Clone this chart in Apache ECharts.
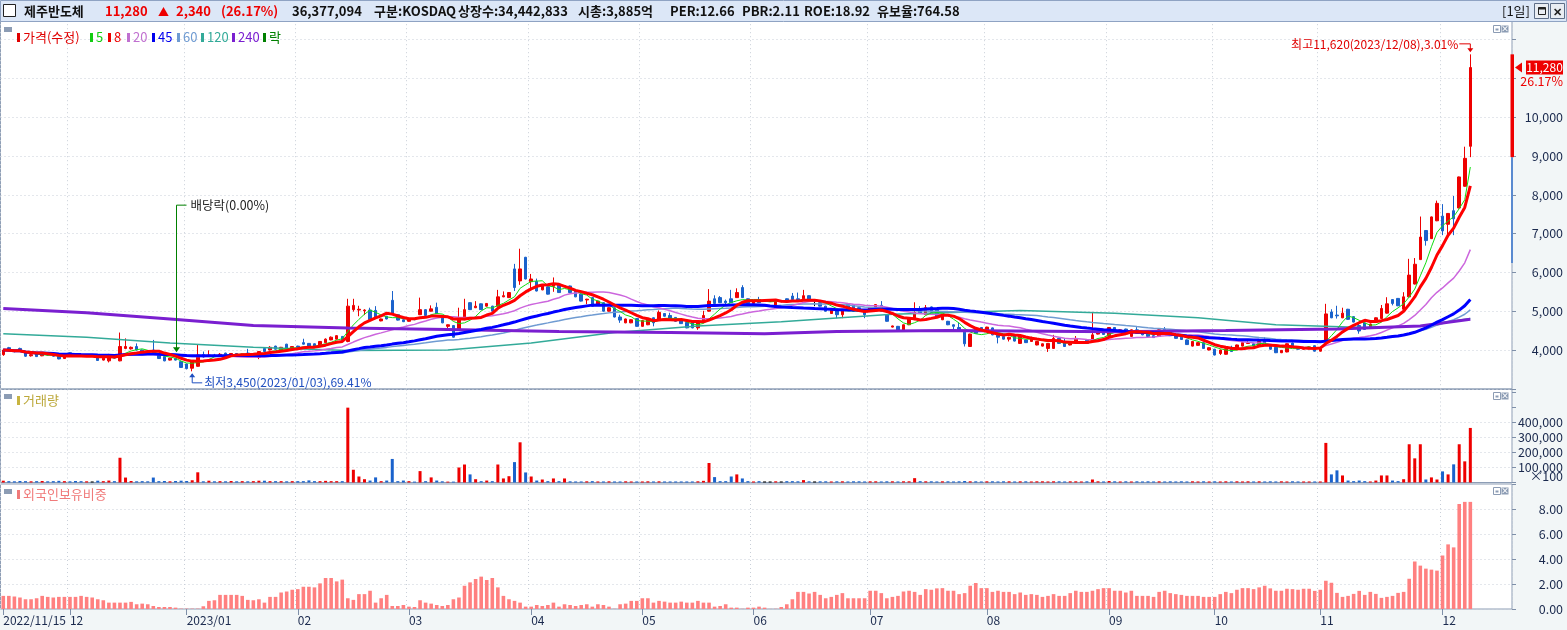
<!DOCTYPE html>
<html>
<head>
<meta charset="utf-8">
<script src="https://cdn.jsdelivr.net/npm/echarts@6/dist/echarts.min.js"></script>
<style>
  html, body { margin: 0; padding: 0; background: #f2f6f7; }
  #chart { width: 1567px; height: 630px; }
</style>
</head>
<body>
<div id="chart"></div>
<script>
/* -----------------------------
   제주반도체 일봉 - 가격 / 거래량 / 외국인보유비중
   ----------------------------- */

// KRX holidays inside the range (weekdays only)
const HOLIDAYS = [
  "2022-12-30", "2023-01-23", "2023-01-24", "2023-03-01", "2023-05-01",
  "2023-05-05", "2023-05-29", "2023-06-06", "2023-08-15", "2023-09-28",
  "2023-09-29", "2023-10-02", "2023-10-03", "2023-10-09"
];
const FIRST_DAY = "2022-11-15";
const LAST_DAY = "2023-12-08";
const EMPTY_SLOTS = 7;   // blank space right of the last candle

// [open, close, low, high]
const nov22 = [
  [3880,4000,3850,4030],[4060,3990,3970,4080],[3990,3960,3940,4000],[4040,3960,3950,4060],
  [3960,3840,3820,3970],[3850,3880,3830,3900],[3930,3830,3820,3940],[3850,3900,3840,3910],
  [3900,3870,3860,3920],[3910,3840,3830,3920],[3870,3770,3760,3880],[3780,3830,3770,3850]
];
const dec22 = [
  [3930,3870,3860,3940],[3880,3850,3840,3900],[3860,3840,3830,3870],[3840,3860,3830,3870],
  [3850,3850,3830,3860],[3830,3730,3720,3840],[3740,3790,3730,3800],[3720,3830,3680,3900],
  [3830,3790,3780,3840],[3720,4090,3710,4450],[4040,4090,4020,4300],[4030,4070,4010,4090],
  [4090,4000,3990,4170],[4000,3900,3890,4010],[3960,3900,3890,3970],[4000,3910,3900,4260],
  [3900,3780,3770,3910],[3830,3720,3710,3840],[3740,3790,3730,3800],[3780,3740,3730,3790],
  [3700,3550,3540,3710]
];
const jan23 = [
  [3640,3520,3500,3650],[3530,3700,3450,3720],[3580,3870,3570,4130],[3880,3820,3800,3960],
  [3830,3870,3820,3990],[3870,3850,3840,3900],[3860,3890,3850,3920],[3920,3880,3870,3930],
  [3880,3910,3870,3920],[3910,3890,3880,3920],[3880,3900,3870,3910],[3920,3880,3870,4030],
  [3890,3900,3870,3910],[3810,3960,3765,3970],[4040,3960,3950,4050],[4000,4070,3990,4100],
  [4100,4020,4010,4110],[4000,4070,3990,4080],[4150,4020,4010,4160],[4020,4090,4010,4100]
];
const feb23 = [
  [4100,4070,4060,4110],[4190,4150,4140,4290],[4170,4100,4090,4180],[4160,4070,4060,4170],
  [4130,4220,4120,4230],[4190,4280,4180,4300],[4260,4330,4250,4350],[4280,4370,4270,4380],
  [4350,4250,4240,4360],[4220,5130,4200,5320],[5040,5150,4990,5320],[5030,5050,4870,5140],
  [5010,5030,4900,5050],[5030,4780,4770,5090],[5020,4850,4840,5130],[4750,4800,4740,4810],
  [4870,4800,4790,4880],[5280,4940,4930,5520],[4910,4770,4760,4920],[4780,4730,4720,4790]
];
const mar23 = [
  [4740,4780,4730,4790],[4810,4780,4770,4820],[4910,5040,4900,5350],[5040,4890,4880,5050],
  [5000,5060,4990,5150],[5100,4940,4930,5220],[4890,4700,4690,4900],[4610,4650,4500,4660],
  [4630,4330,4320,4640],[4520,4780,4510,5090],[4780,5040,4770,5320],[5220,5040,5030,5230],
  [5090,5130,5080,5260],[5190,5040,5030,5200],[5130,5200,5120,5210],[5130,5000,4990,5140],
  [5130,5370,5120,5550],[5370,5400,5360,5510],[5350,5480,5340,5490],[6090,5610,5520,6220],
  [5780,6090,5680,6610],[6390,5830,5820,6400]
];
const apr23 = [
  [5760,5830,5540,5960],[5770,5520,5510,5840],[5550,5650,5540,5660],[5630,5440,5430,5640],
  [5640,5700,5500,5870],[5700,5480,5470,5710],[5640,5660,5630,5670],[5650,5480,5470,5660],
  [5520,5370,5360,5530],[5440,5260,5250,5450],[5290,5310,5180,5320],[5350,5130,5120,5360],
  [5170,5260,5160,5270],[5220,5000,4990,5230],[5000,5090,4990,5100],[5090,4850,4840,5100],
  [4850,4770,4700,4910],[4700,4800,4690,4810],[4700,4780,4690,4790],[4810,4610,4600,4820]
];
const may23 = [
  [4610,4760,4600,4770],[4650,4780,4640,4790],[4830,4700,4610,4840],[4780,4970,4770,5020],
  [4940,4870,4860,4950],[4890,4770,4760,4960],[4840,4740,4730,4850],[4760,4680,4670,4770],
  [4710,4570,4560,4720],[4740,4570,4560,4750],[4570,4710,4520,4720],[4740,4890,4730,5010],
  [5000,5260,4990,5570],[5320,5200,5190,5410],[5350,5220,5210,5390],[5260,5220,5170,5300],
  [5320,5220,5210,5550],[5350,5480,5340,5590],[5610,5350,5340,5670],[5320,5200,5190,5330]
];
const jun23 = [
  [5200,5260,5190,5270],[5300,5220,5210,5370],[5260,5260,5240,5280],[5260,5260,5240,5290],
  [5090,5260,5080,5270],[5260,5260,5230,5290],[5320,5260,5250,5330],[5390,5300,5290,5470],
  [5320,5260,5250,5480],[5320,5400,5310,5550],[5400,5260,5250,5410],[5260,5260,5130,5310],
  [5220,5130,5120,5230],[5130,5000,4990,5140],[4940,5040,4930,5050],[5040,4910,4820,5050],
  [4910,5040,4820,5050],[5170,5040,5030,5180],[5170,5000,4990,5180],[5090,5000,4990,5100],
  [5000,4910,4820,5010]
];
const jul23 = [
  [5000,5090,4990,5100],[5030,5170,5020,5180],[5150,5000,4990,5260],[4910,4740,4730,4920],
  [4590,4620,4580,4630],[4610,4480,4470,4620],[4500,4650,4490,4660],[4650,4800,4640,4810],
  [4780,4970,4770,5230],[5040,4940,4930,5130],[4910,5090,4900,5160],[5110,4970,4960,5120],
  [5040,4850,4840,5050],[4780,4890,4770,4900],[4740,4650,4640,4750],[4650,4610,4500,4660],
  [4580,4480,4470,4700],[4460,4160,4090,4470],[4090,4410,4080,4420],[4540,4430,4420,4550],
  [4580,4500,4490,4590]
];
const aug23 = [
  [4500,4590,4490,4600],[4570,4390,4380,4580],[4390,4330,4170,4400],[4350,4280,4270,4360],
  [4280,4330,4220,4340],[4390,4230,4220,4400],[4170,4350,4160,4360],[4260,4190,4180,4270],
  [4220,4330,4210,4340],[4130,4220,4120,4230],[4100,4160,4090,4170],[4040,4170,3950,4180],
  [4040,4300,4030,4390],[4300,4170,4160,4310],[4220,4090,4080,4300],[4130,4170,4120,4180],
  [4220,4280,4210,4360],[4180,4200,4170,4210],[4250,4170,4160,4260],[4220,4390,4210,4960],
  [4410,4450,4400,4460],[4460,4400,4390,4470]
];
const sep23 = [
  [4370,4580,4360,4590],[4580,4450,4440,4590],[4480,4520,4470,4530],[4540,4410,4400,4550],
  [4350,4520,4340,4530],[4520,4430,4420,4590],[4450,4390,4380,4460],[4430,4350,4340,4440],
  [4370,4320,4310,4380],[4350,4520,4340,4530],[4540,4480,4470,4590],[4480,4370,4360,4490],
  [4390,4300,4290,4400],[4330,4270,4260,4340],[4260,4140,4130,4270],[4100,4220,4090,4230],
  [4120,4190,4110,4200],[4190,4040,4030,4200],[4000,4060,3990,4070]
];
const oct23 = [
  [4020,3870,3860,4030],[3910,4000,3870,4010],[3890,4030,3880,4040],[4070,3960,3950,4110],
  [4020,4130,4010,4140],[4100,4190,4090,4200],[4170,4180,4160,4230],[4160,4100,4090,4170],
  [4100,4220,4090,4230],[4260,4170,4160,4330],[4130,4020,4010,4140],[4070,3930,3920,4080],
  [3930,3990,3920,4000],[3950,4160,3940,4170],[4180,4080,4070,4190],[4080,4020,4010,4090],
  [4020,4060,4010,4070],[4030,4080,4020,4090],[4110,3970,3960,4120]
];
const nov23 = [
  [3970,4030,3960,4040],[4230,4930,4200,5190],[4980,4830,4820,5050],[4900,4880,4810,5140],
  [4830,4950,4820,5090],[5050,4790,4780,5060],[4860,4720,4710,4870],[4630,4490,4420,4700],
  [4700,4530,4520,4710],[4580,4670,4570,4680],[4720,4830,4710,4840],[4810,5070,4800,5160],
  [4950,5190,4940,5360],[5300,5200,5150,5310],[5330,5140,5130,5340],[5050,5370,5040,5490],
  [5370,5930,5360,6350],[5700,6210,5690,6370],[6330,6910,6320,7440],[7080,6820,6690,7090],
  [6870,7430,6860,7440],[7330,7780,7320,7850]
];
const dec23 = [
  [7450,7070,6960,7760],[7240,7520,6960,7530],[7590,7380,6960,7970],[7660,8460,7650,8470],
  [8220,8940,8210,9240],[9250,11280,8970,11620]
];

// 거래량 (x100 shares)
const volume = [
  12000,9000,8000,10000,9000,8000,9000,10000,8000,9000,11000,9000,8000,10000,9000,8000,7000,12000,9000,13000,9000,
  165000,33000,10000,8000,9000,8000,33000,9000,10000,8000,10000,12000,10000,15000,68000,8000,12000,8000,9000,8000,10000,8000,9000,8000,9000,
  12000,12000,9000,9000,9000,8000,9000,9000,9000,14000,9000,9000,11000,9000,9000,9000,
  499000,85000,40000,22000,13000,34000,9000,13000,157000,9000,13000,9000,6000,76000,9000,34000,13000,8000,6000,6000,
  100000,120000,54000,22000,9000,13000,9000,120000,27000,42000,136000,268000,67000,40000,13000,20000,9000,27000,9000,27000,8000,7000,
  7000,8000,9000,7000,7000,8000,7000,7000,8000,7000,7000,7000,8000,7000,8000,7000,7000,7000,7000,7000,7000,8000,11000,
  130000,36000,9000,9000,40000,54000,27000,9000,7000,9000,
  7000,7000,8000,7000,9000,9000,8000,16000,
  8000,7000,8000,8000,7000,8000,8000,7000,8000,8000,7000,8000,8000,7000,8000,8000,7000,8000,8000,
  29000,9000,8000,8000,7000,8000,8000,7000,8000,10000,
  8000,8000,7000,8000,8000,7000,8000,8000,7000,8000,
  8000,7000,8000,8000,7000,8000,8000,7000,8000,8000,7000,8000,20000,8000,7000,10000,
  8000,7000,8000,7000,8000,7000,8000,7000,8000,7000,8000,7000,8000,7000,8000,7000,8000,
  7000,8000,7000,8000,7000,8000,7000,8000,7000,8000,7000,8000,7000,8000,7000,8000,7000,
  7000,7000,7000,7000,264000,54000,81000,47000,13000,9000,13000,9000,7000,13000,47000,47000,13000,9000,22000,
  255000,161000,255000,20000,34000,20000,74000,54000,121000,255000,141000,363771
];

// 외국인보유비중 (%)
const foreign = [
  1.05,1.05,1.0,0.92,0.78,0.78,0.86,1.05,0.97,0.92,0.97,0.97,0.97,0.97,1.05,0.97,0.92,0.78,0.70,0.51,
  0.51,0.51,0.51,0.57,0.38,0.43,0.38,0.24,0.16,0.16,0.16,0.11,0.03,0.03,0.03,0.03,0.22,0.65,0.70,1.13,
  1.13,1.13,1.13,1.05,0.73,0.70,
  0.78,0.51,0.97,0.97,1.32,1.40,1.54,1.59,1.78,1.78,1.73,2.05,2.48,2.48,2.21,2.35,0.86,0.73,1.19,1.19,
  1.46,0.51,0.86,1.13,0.24,0.24,0.32,0.19,0.16,0.70,0.51,0.43,0.32,0.24,0.32,0.78,0.92,1.86,2.13,2.40,
  2.59,2.32,2.48,1.73,1.05,0.78,
  0.65,0.51,0.19,0.19,0.32,0.24,0.32,0.51,0.19,0.38,0.32,0.24,0.32,0.38,0.19,0.38,0.32,0.19,0.02,0.38,
  0.43,0.65,0.65,0.86,0.86,0.51,0.65,0.59,0.51,0.51,0.59,0.51,0.51,0.65,0.51,0.51,0.19,0.24,0.38,0.11,
  0.11,0.02,0.11,0.11,0.19,0.11,
  0.01,0.02,0.16,0.38,0.78,1.37,1.37,1.24,1.37,1.13,0.86,0.97,1.13,1.27,0.86,0.86,0.86,0.86,1.46,1.46,
  1.27,0.86,0.97,1.05,1.40,1.46,1.37,1.13,1.59,1.54,1.65,1.67,1.46,1.46,1.19,1.27,1.86,2.08,1.67,1.67,
  1.37,1.46,1.37,1.37,1.19,1.32,
  1.13,1.19,1.13,0.97,1.05,1.19,1.05,1.05,1.27,1.46,1.37,1.37,1.46,1.59,1.67,1.67,1.46,1.46,1.32,1.46,
  1.05,1.05,1.05,0.97,1.37,1.46,1.27,1.19,1.13,1.05,1.05,1.05,0.97,0.97,0.97,1.19,1.37,1.27,1.54,1.67,
  1.67,1.59,1.73,1.86,1.65,1.46,
  1.46,1.62,1.59,1.54,
  1.62,1.62,1.45,1.54,2.26,2.10,1.29,0.97,1.05,1.21,1.45,1.13,1.37,1.21,0.89,0.97,1.05,1.29,1.37,2.42,
  3.80,3.47,3.23,3.15,3.07,4.28,5.17,4.93,8.40,8.57,8.57
];

// long averages (bar index -> value)
const ma120At = [0, 15, 30, 45, 62, 80, 95, 110, 125, 140, 160, 183, 200, 215, 229, 245, 255, 264];
const ma120Val = [4420, 4330, 4180, 4070, 3990, 4000, 4180, 4450, 4620, 4730, 4920, 5020, 4950, 4830, 4650, 4580, 4620, 4810];
const ma240At = [0, 15, 30, 45, 62, 80, 100, 120, 137, 150, 170, 200, 220, 240, 255, 264];
const ma240Val = [5070, 4960, 4800, 4630, 4565, 4530, 4480, 4450, 4420, 4480, 4500, 4470, 4500, 4540, 4620, 4790];

// today's range bar on the price axis: [band low, day low, day high]
const rightBand = [6240, 8970, 11620];

const EX_DIV_INDEX = 31;   // 배당락 2022/12/28

const UP = "#ee0000";
const DOWN = "#1a62cc";
const GRID_LINE = "#c9cfd8";
const BORDER = "#8d9db5";
const AXIS_TEXT = "#1b2a4e";
const FONT = "'Noto Sans CJK KR', 'Noto Sans', sans-serif";

/* ---------- derived ---------- */

const candles = [...nov22, ...dec22, ...jan23, ...feb23, ...mar23, ...apr23, ...may23,
                 ...jun23, ...jul23, ...aug23, ...sep23, ...oct23, ...nov23, ...dec23];
const closes = candles.map(c => c[1]);

function tradingDays(from, to) {
  const out = [];
  const off = new Set(HOLIDAYS);
  const d = new Date(from + "T00:00:00Z");
  const end = new Date(to + "T00:00:00Z");
  while (d <= end) {
    const wd = d.getUTCDay();
    const s = d.toISOString().slice(0, 10);
    if (wd !== 0 && wd !== 6 && !off.has(s)) out.push(s);
    d.setUTCDate(d.getUTCDate() + 1);
  }
  return out;
}

const dates = tradingDays(FIRST_DAY, LAST_DAY);
const cats = dates.concat(new Array(EMPTY_SLOTS).fill(""));

// first trading day of each month
const monthStart = new Set();
dates.forEach((d, i) => {
  if (i === 0 || d.slice(0, 7) !== dates[i - 1].slice(0, 7)) monthStart.add(i);
});
const monthTick = (i) => monthStart.has(i);
const monthLabel = (value, i) => {
  if (!value) return "";
  if (i === 0) return value.replace(/-/g, "/");
  const [y, m] = value.split("-");
  return m === "01" ? `${y}/${m}` : m;
};

function sma(n) {
  return closes.map((_, i) => {
    const s = Math.max(0, i - n + 1);
    let sum = 0;
    for (let k = s; k <= i; k++) sum += closes[k];
    return Math.round(sum / (i - s + 1) * 10) / 10;
  });
}

function sparse(at, val) {
  const arr = new Array(dates.length).fill(null);
  at.forEach((i, k) => { arr[i] = val[k]; });
  return arr;
}

const comma = (v) => String(Math.round(v)).replace(/\B(?=(\d{3})+(?!\d))/g, ",");

const candleColor = (c) => c[1] > c[0] ? UP : (c[1] < c[0] ? DOWN : "#000000");

function maLine(name, data, color, width, z) {
  return {
    name, type: "line", xAxisIndex: 0, yAxisIndex: 0, data,
    symbol: "none", connectNulls: true, silent: true, z,
    lineStyle: { color, width }
  };
}

/* ---------- chart ---------- */

const chart = echarts.init(document.getElementById("chart"));

const gridBase = { left: 0.5, right: 55, show: true, backgroundColor: "#ffffff", borderColor: BORDER, borderWidth: 1 };

const xAxes = [0, 1, 2].map(g => ({
  type: "category",
  gridIndex: g,
  data: cats,
  boundaryGap: true,
  axisLine: { show: false },
  axisTick: g === 2
    ? { show: true, alignWithLabel: true, interval: monthTick, length: 6, lineStyle: { color: "#7e8fa8" } }
    : { show: false },
  axisLabel: g === 2
    ? { show: true, interval: monthTick, formatter: monthLabel, align: "left", margin: 5,
        color: AXIS_TEXT, fontSize: 12, fontFamily: FONT }
    : { show: false },
  splitLine: { show: true, interval: monthTick, lineStyle: { color: GRID_LINE, type: [1, 3] } }
}));

const yLabel = { color: AXIS_TEXT, fontSize: 12.5, fontFamily: FONT, align: "right", margin: 51 };
const yTick = { show: true, length: 4, lineStyle: { color: "#7e8fa8" } };
const T = "rgba(0,0,0,0)";

chart.setOption({
  animation: false,
  backgroundColor: "#f2f6f7",
  grid: [
    { ...gridBase, top: 20.2, height: 368.6 },
    { ...gridBase, top: 389.5, height: 93 },
    { ...gridBase, top: 484, height: 125 }
  ],
  xAxis: xAxes,
  yAxis: [
    {
      gridIndex: 0, type: "value", position: "right", min: 3000, max: 12500, interval: 1000,
      axisLine: { show: false }, axisTick: yTick,
      axisLabel: { ...yLabel, formatter: v => (v >= 4000 && v <= 10000) ? comma(v) : "" },
      splitLine: { lineStyle: { color: GRID_LINE, type: [1, 3] } }
    },
    {
      gridIndex: 1, type: "value", position: "right", min: 0, max: 620000, interval: 100000,
      axisLine: { show: false }, axisTick: yTick,
      axisLabel: { ...yLabel, formatter: v => (v >= 100000 && v <= 400000) ? comma(v) : "" },
      splitLine: { lineStyle: { color: [T, GRID_LINE, GRID_LINE, GRID_LINE, GRID_LINE, T, T], type: [1, 3] } }
    },
    {
      gridIndex: 2, type: "value", position: "right", min: 0, max: 10, interval: 2,
      axisLine: { show: false }, axisTick: yTick,
      axisLabel: { ...yLabel, formatter: v => v <= 8 ? v.toFixed(2) : "" },
      splitLine: { lineStyle: { color: GRID_LINE, type: [1, 3] } }
    }
  ],
  series: [
    {
      name: "가격", type: "candlestick", xAxisIndex: 0, yAxisIndex: 0,
      data: candles, barWidth: 3, z: 2, silent: true,
      itemStyle: { color: UP, color0: DOWN, borderColor: UP, borderColor0: DOWN,
                   borderColorDoji: "#000000", borderWidth: 1 }
    },
    maLine("120", sparse(ma120At, ma120Val), "#33aa99", 1.5, 3),
    maLine("60", sma(60), "#6f9bd2", 1.5, 3),
    maLine("20", sma(20), "#cc66dd", 1.5, 3),
    maLine("5", sma(5), "#11dd11", 1, 3),
    maLine("240", sparse(ma240At, ma240Val), "#7a1fd0", 3, 4),
    maLine("45", sma(45), "#0000ff", 3, 4),
    maLine("8", sma(8), "#ff0000", 3, 5),
    {
      name: "거래량", type: "bar", xAxisIndex: 1, yAxisIndex: 1, barWidth: 3, silent: true,
      data: volume.map((v, i) => ({ value: v, itemStyle: { color: candleColor(candles[i]) } }))
    },
    {
      name: "외국인보유비중", type: "bar", xAxisIndex: 2, yAxisIndex: 2, barWidth: 3.6, silent: true,
      data: foreign, itemStyle: { color: "#ff8080" }
    }
  ]
});

/* ---------- overlays ---------- */

function txt(x, y, text, color, font, align) {
  const a = align || "left";
  return {
    type: "text", z: 110,
    style: { x, y, text, fill: color, font, align: a, textAlign: a,
             verticalAlign: "middle", textVerticalAlign: "middle" }
  };
}
const rect = (x, y, w, h, fill, stroke, lw) => ({
  type: "rect", z: 105, shape: { x, y, width: w, height: h },
  style: { fill: fill || null, stroke: stroke || null, lineWidth: lw || 1 }
});
const poly = (points, stroke) => ({
  type: "polyline", z: 110, shape: { points }, style: { stroke, lineWidth: 1, fill: null }
});
const tri = (points, fill) => ({ type: "polygon", z: 110, shape: { points }, style: { fill } });

const px = (i, v) => chart.convertToPixel({ xAxisIndex: 0, yAxisIndex: 0 }, [i, v]);
const py = (v) => chart.convertToPixel({ yAxisIndex: 0 }, v);

const last = candles.length - 1;
const lastClose = closes[last];
const prevClose = closes[last - 1];
const diff = lastClose - prevClose;
const pct = diff / prevClose * 100;

let hiIdx = 0, loIdx = 0;
candles.forEach((c, i) => {
  if (c[3] > candles[hiIdx][3]) hiIdx = i;
  if (c[2] < candles[loIdx][2]) loIdx = i;
});
const hi = candles[hiIdx][3];
const lo = candles[loIdx][2];
const hiPct = (hi - lastClose) / lastClose * 100;
const loPct = (lastClose - lo) / lastClose * 100;

const G = [];
const HF = `bold 13px ${FONT}`;
const SF = `12px ${FONT}`;
const LF = `13px ${FONT}`;

// header bar
G.push(rect(0.5, 0.5, 1566, 21, "#dce7f7", "#8fa3c3", 1));
G.push(rect(3.5, 4.5, 12, 12, "#ffffff", "#222222", 1));
G.push(txt(24, 11.5, "제주반도체", "#111111", HF));
G.push(txt(105, 11.5, comma(lastClose), UP, HF));
G.push(txt(158, 11.5, "▲", UP, `bold 11px ${FONT}`));
G.push(txt(176, 11.5, comma(diff), UP, HF));
G.push(txt(221, 11.5, `(${pct.toFixed(2)}%)`, UP, HF));
[
  [292, "36,377,094"], [374, "구분:KOSDAQ"], [458, "상장수:34,442,833"], [578, "시총:3,885억"],
  [670, "PER:12.66"], [742, "PBR:2.11"], [804, "ROE:18.92"], [877, "유보율:764.58"]
].forEach(([x, s]) => G.push(txt(x, 11.5, s, "#111111", HF)));
G.push(txt(1502, 11.5, "[1일]", "#111111", `13px ${FONT}`));
G.push(rect(1534.5, 3.5, 14, 15, "#e9edf3", "#5e6e88", 1));
G.push(rect(1538.5, 7.5, 7, 7, null, "#222222", 1));
G.push(rect(1538.5, 7.5, 7, 2, "#222222", null, 1));
G.push(rect(1550.5, 3.5, 14, 15, "#e9edf3", "#5e6e88", 1));
G.push(txt(1557.5, 11.5, "✕", "#222222", `bold 11px ${FONT}`, "center"));

// panel corner widgets
[25, 392, 487].forEach((y, k) => {
  G.push(rect(4, k === 0 ? 27 : y + 2, 8, 5, "#8c9cb4"));
  G.push(rect(1493.5, y + 0.5, 7, 7, "#ffffff", "#8c9cb4", 1));
  G.push(rect(1495.5, y + 3.5, 3, 2, "#8c9cb4"));
  G.push(rect(1501.5, y + 0.5, 7, 7, "#8c9cb4"));
  G.push(txt(1505, y + 4, "×", "#ffffff", `bold 8px ${FONT}`, "center"));
});

// price panel legend
[
  [17, "가격(수정)", "#e00000"], [90, "5", "#11cc11"], [108, "8", "#ee0000"], [127, "20", "#c070d0"],
  [152, "45", "#0000ee"], [177, "60", "#6f9bd2"], [201, "120", "#33aa99"], [232, "240", "#7a1fd0"],
  [263, "락", "#008000"]
].forEach(([x, s, c]) => {
  G.push(rect(x, 33, 3, 9, c));
  G.push(txt(x + 6, 37.5, s, c, LF));
});
G.push(rect(17, 396, 3, 9, "#c8b440"));
G.push(txt(23, 400.5, "거래량", "#bca83a", LF));
G.push(rect(17, 490, 3, 9, "#f07a7a"));
G.push(txt(23, 494.5, "외국인보유비중", "#f07a7a", LF));
G.push(txt(1563, 476, "×100", AXIS_TEXT, `12.5px ${FONT}`, "right"));

// high note
const pH = px(hiIdx, hi);
G.push(txt(pH[0] - 12, pH[1] - 10, `최고${comma(hi)}(${dates[hiIdx].replace(/-/g, "/")}),${hiPct.toFixed(2)}%`, "#e00000", SF, "right"));
G.push(poly([[pH[0] - 11, pH[1] - 10.5], [pH[0], pH[1] - 10.5], [pH[0], pH[1] - 4]], "#e00000"));
G.push(tri([[pH[0] - 3, pH[1] - 6], [pH[0] + 3, pH[1] - 6], [pH[0], pH[1] - 2]], "#e00000"));

// low note
const pL = px(loIdx, lo);
const LOW_C = "#1f4fc0";
G.push(poly([[pL[0], pL[1] + 3], [pL[0], pL[1] + 11.5], [pL[0] + 10, pL[1] + 11.5]], LOW_C));
G.push(tri([[pL[0] - 3, pL[1] + 6], [pL[0] + 3, pL[1] + 6], [pL[0], pL[1] + 2]], LOW_C));
G.push(txt(pL[0] + 12, pL[1] + 11.5, `최저${comma(lo)}(${dates[loIdx].replace(/-/g, "/")}),${loPct.toFixed(2)}%`, LOW_C, SF));

// ex-dividend marker
const pX = px(EX_DIV_INDEX, candles[EX_DIV_INDEX][3]);
const exX = Math.round(pX[0]) + 0.5;
const tipY = pX[1] - 6;
const topY = tipY - 147;
G.push(poly([[exX, tipY - 3], [exX, topY], [exX + 10, topY]], "#008000"));
G.push(tri([[exX - 3.5, tipY - 5], [exX + 3.5, tipY - 5], [exX, tipY]], "#008000"));
G.push(txt(exX + 14, topY, "배당락(0.00%)", "#222222", `12.5px ${FONT}`));

// today's band on the price axis and the current price tag
const yBandLo = py(rightBand[0]), yDayLo = py(rightBand[1]), yDayHi = py(rightBand[2]);
G.push(rect(1511, yDayLo, 2, yBandLo - yDayLo, "#5a8ad0"));
G.push(rect(1510.5, yDayHi, 3.5, yDayLo - yDayHi, "#ee0000"));
const yC = py(lastClose);
G.push(tri([[1515, yC], [1522, yC - 5], [1522, yC + 5]], "#ee0000"));
G.push(rect(1526, yC - 7, 37, 14, "#ee0000"));
G.push(txt(1544.5, yC, comma(lastClose), "#ffffff", SF, "center"));
G.push(txt(1563, yC + 14, `${pct.toFixed(2)}%`, "#ee0000", `12.5px ${FONT}`, "right"));

if (dates.length !== candles.length || volume.length !== candles.length || foreign.length !== candles.length) {
  G.push(txt(600, 200, `length mismatch d${dates.length} c${candles.length} v${volume.length} f${foreign.length}`, "#000", "bold 20px sans-serif"));
}

chart.setOption({ graphic: { elements: G } });
</script>
</body>
</html>
